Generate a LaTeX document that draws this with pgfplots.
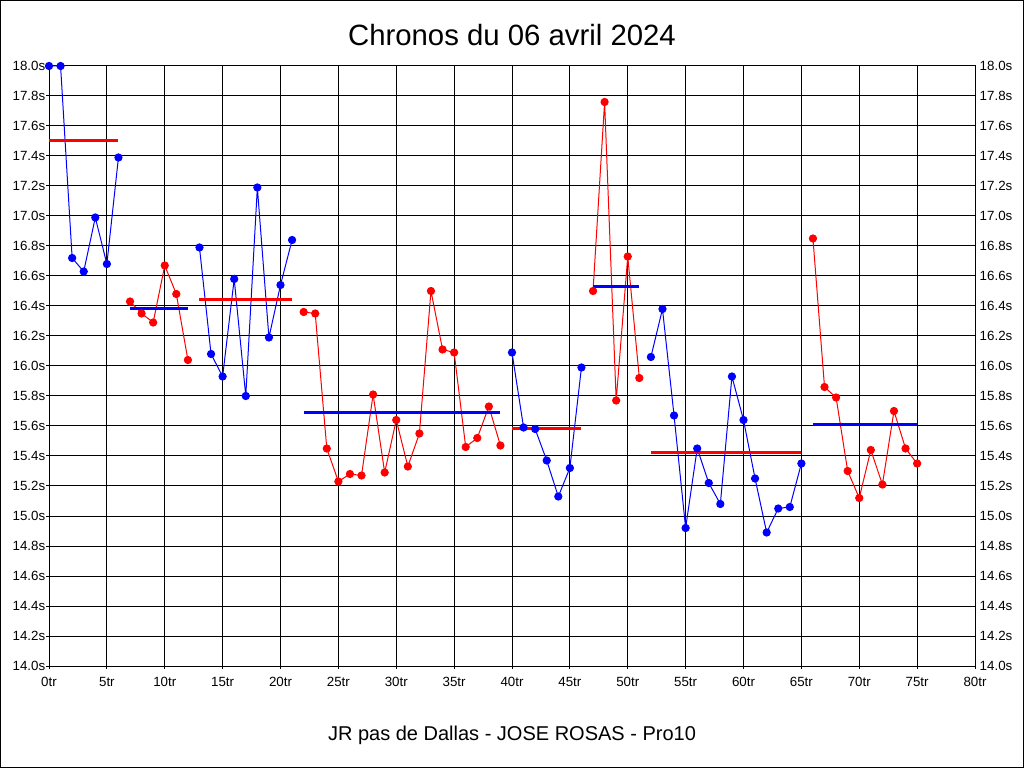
\documentclass[border=0pt]{standalone}
\usepackage{fontspec}
\setmainfont{Liberation Sans}
\usepackage{pgfplots}
\pgfplotsset{compat=1.18}
\definecolor{pblue}{RGB}{0,0,255}
\definecolor{pred}{RGB}{255,0,0}
\begin{document}
\begin{tikzpicture}
\draw[black, line width=0.75pt, fill=white] (0.375pt,0.375pt) rectangle (767.625pt,575.625pt);
\pgfplotsset{
  base/.style={
    anchor=south west, at={(36.75pt,76.5pt)},
    width=694.5pt, height=450pt, scale only axis,
    xmin=0, xmax=80, ymin=14, ymax=18,
    xtick={0,5,...,80},
    ytick={14,14.2,14.4,14.6,14.8,15,15.2,15.4,15.6,15.8,16,16.2,16.4,16.6,16.8,17,17.2,17.4,17.6,17.8,18},
    /pgf/number format/assume math mode=true,
    ticklabel style={font=\fontsize{10}{12}\selectfont},
    yticklabel={\pgfmathprintnumber[fixed,fixed zerofill,precision=1]{\tick}s},
    xticklabel={\pgfmathprintnumber[fixed,precision=0]{\tick}tr},
    axis line style={black, line width=0.75pt},
    tick style={black, line width=0.75pt},
    tick align=outside,
    major tick length=2.25pt,
  },
  dl/.style={line width=0.75pt, mark=*, mark size=2.7pt, mark options={solid}},
  avg/.style={line width=2.25pt, no marks},
}
\begin{axis}[base,
  grid=major, grid style={black, line width=0.75pt},
  xtick pos=bottom, ytick pos=left,
  xticklabel style={yshift=-2.8pt},
  yticklabel style={xshift=3pt},
  clip=false,
]
% segment 1 (blue)
\addplot[dl, pblue] coordinates {(0,18.0)(1,18.0)(2,16.72)(3,16.63)(4,16.99)(5,16.68)(6,17.39)};
\addplot[avg, pred] coordinates {(0,17.5)(6,17.5)};
% segment 2 (red)
\addplot[dl, pred] coordinates {(7,16.43)(8,16.35)(9,16.29)(10,16.67)(11,16.48)(12,16.04)};
\addplot[avg, pblue] coordinates {(7,16.38)(12,16.38)};
% segment 3 (blue)
\addplot[dl, pblue] coordinates {(13,16.79)(14,16.08)(15,15.93)(16,16.58)(17,15.80)(18,17.19)(19,16.19)(20,16.54)(21,16.84)};
\addplot[avg, pred] coordinates {(13,16.44)(21,16.44)};
% segment 4 (red)
\addplot[dl, pred] coordinates {(22,16.36)(23,16.35)(24,15.45)(25,15.23)(26,15.28)(27,15.27)(28,15.81)(29,15.29)(30,15.64)(31,15.33)(32,15.55)(33,16.50)(34,16.11)(35,16.09)(36,15.46)(37,15.52)(38,15.73)(39,15.47)};
\addplot[avg, pblue] coordinates {(22,15.69)(39,15.69)};
% segment 5 (blue)
\addplot[dl, pblue] coordinates {(40,16.09)(41,15.59)(42,15.58)(43,15.37)(44,15.13)(45,15.32)(46,15.99)};
\addplot[avg, pred] coordinates {(40,15.58)(46,15.58)};
% segment 6 (red)
\addplot[dl, pred] coordinates {(47,16.50)(48,17.76)(49,15.77)(50,16.73)(51,15.92)};
\addplot[avg, pblue] coordinates {(47,16.53)(51,16.53)};
% segment 7 (blue)
\addplot[dl, pblue] coordinates {(52,16.06)(53,16.38)(54,15.67)(55,14.92)(56,15.45)(57,15.22)(58,15.08)(59,15.93)(60,15.64)(61,15.25)(62,14.89)(63,15.05)(64,15.06)(65,15.35)};
\addplot[avg, pred] coordinates {(52,15.42)(65,15.42)};
% segment 8 (red)
\addplot[dl, pred] coordinates {(66,16.85)(67,15.86)(68,15.79)(69,15.30)(70,15.12)(71,15.44)(72,15.21)(73,15.70)(74,15.45)(75,15.35)};
\addplot[avg, pblue] coordinates {(66,15.61)(75,15.61)};
\end{axis}
\begin{axis}[base,
  hide x axis,
  axis y line*=right,
  yticklabel pos=right,
  ytick pos=right,
  major tick length=0pt,
  yticklabel style={xshift=0pt},
]
\addplot[draw=none] coordinates {(0,14)};
\end{axis}
\node[font=\fontsize{22}{26}\selectfont] at (384pt,549.75pt) {Chronos du 06 avril 2024};
\node[font=\fontsize{15}{18}\selectfont] at (384pt,24.75pt) {JR pas de Dallas - JOSE ROSAS - Pro10};
\end{tikzpicture}
\end{document}
